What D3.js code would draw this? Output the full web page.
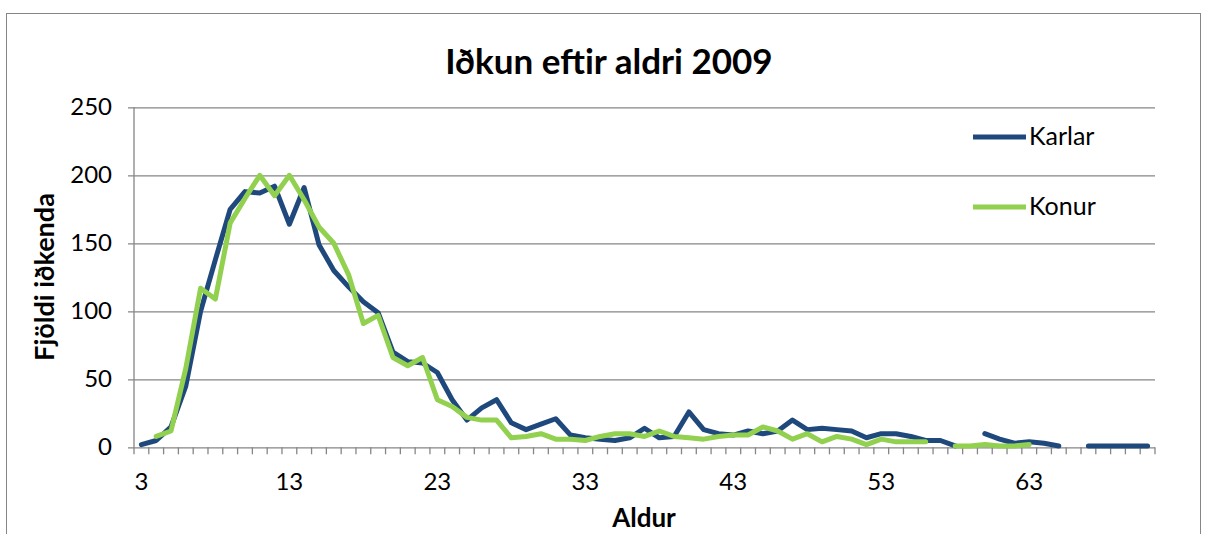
<!DOCTYPE html>
<html>
<head>
<meta charset="utf-8">
<script src="https://cdn.jsdelivr.net/npm/d3@7"></script>
<style>
  body { margin: 0; background: #fff; }
  text { font-family: Lato, "Liberation Sans", sans-serif; fill: #000; }
</style>
</head>
<body>
<svg></svg>
<script>
//svg size
const width = 1209;
const height = 534;

//data: ages 3..71
var ages = d3.range(3, 72);
var karlar = [2, 5, 15, 45, 100, 138, 175, 188, 187, 192,
              164, 191, 149, 130, 118, 107, 99, 70, 63, 62,
              55, 35, 20, 29, 35, 18, 13, 17, 21, 9,
              7, 6, 5, 7, 14, 7, 8, 26, 13, 10,
              9, 12, 10, 12, 20, 13, 14, 13, 12, 7,
              10, 10, 8, 5, 5, 1, null, 10, 6, 3,
              4, 3, 1, null, 1, 1, 1, 1, 1];
var konur = [null, 8, 12, 58, 117, 109, 165, 183, 200, 185,
             200, 182, 162, 150, 127, 91, 97, 66, 60, 66,
             35, 30, 22, 20, 20, 7, 8, 10, 6, 6,
             5, 8, 10, 10, 8, 12, 8, 7, 6, 8,
             9, 9, 15, 12, 6, 10, 4, 8, 6, 2,
             6, 4, 4, 4, null, 1, 1, 2, 1, 1,
             2, null, null, null, null, null, null, null, null];
var tickAges = [3, 13, 23, 33, 43, 53, 63];
var yTicks = [0, 50, 100, 150, 200, 250];

//colours
var karlar_col = '#1f497d';
var konur_col = '#92d050';
var grid_col = '#868686';

//plot area
var plotLeft = 134, plotRight = 1155, plotTop = 107.3, plotBottom = 447.3;

var svg = d3.select('svg')
    .attr('width', width)
    .attr('height', height);

//outer chart border
svg.append('rect')
   .attr('x', 6.5)
   .attr('y', 13.5)
   .attr('width', 1194)
   .attr('height', 540)
   .attr('fill', 'none')
   .attr('stroke', grid_col)
   .attr('stroke-width', 1);

//scales
var x = d3.scaleBand().domain(ages).range([plotLeft, plotRight]);
var y = d3.scaleLinear().domain([0, 250]).range([plotBottom, plotTop]);

//horizontal gridlines + y ticks
svg.append('g')
   .attr('transform', 'translate(' + plotLeft + ',0)')
   .call(d3.axisLeft(y).tickValues(yTicks).tickSize(-(plotRight - plotLeft)).tickSizeOuter(0))
   .call(g => g.select('.domain').remove())
   .call(g => g.selectAll('.tick line').attr('stroke', grid_col).attr('stroke-width', 1.3).attr('x1', -6))
   .call(g => g.selectAll('.tick text')
               .style('font-size', '24px')
               .style('font-family', 'Lato, sans-serif')
               .attr('fill', '#000')
               .attr('x', -22));

//y axis line
svg.append('line')
   .attr('x1', plotLeft).attr('x2', plotLeft)
   .attr('y1', plotTop).attr('y2', plotBottom)
   .attr('stroke', grid_col)
   .attr('stroke-width', 1.3);

//x axis tick marks at category boundaries
svg.append('g')
   .selectAll('line')
   .data(ages.concat([null]))
   .join('line')
   .attr('x1', (d, i) => plotLeft + i * x.step())
   .attr('x2', (d, i) => plotLeft + i * x.step())
   .attr('y1', plotBottom)
   .attr('y2', plotBottom + 7)
   .attr('stroke', grid_col)
   .attr('stroke-width', 1.3);

//x tick labels
svg.append('g')
   .selectAll('text')
   .data(tickAges)
   .join('text')
   .attr('x', d => x(d) + x.bandwidth() / 2)
   .attr('y', 490)
   .attr('text-anchor', 'middle')
   .style('font-size', '24px')
   .text(d => d);

//lines
var line = d3.line()
    .defined(d => d.v != null)
    .x(d => x(d.age) + x.bandwidth() / 2)
    .y(d => y(d.v));

var series = [
  {name: 'Karlar', values: karlar, col: karlar_col},
  {name: 'Konur', values: konur, col: konur_col}
];

series.forEach(function(s) {
  svg.append('path')
     .datum(ages.map((a, i) => ({age: a, v: s.values[i]})))
     .attr('d', line)
     .attr('fill', 'none')
     .attr('stroke', s.col)
     .attr('stroke-width', 5)
     .attr('stroke-linejoin', 'round')
     .attr('stroke-linecap', 'round');
});

//legend
series.forEach(function(s, i) {
  var ly = 137 + i * 70;
  svg.append('line')
     .attr('x1', 973).attr('x2', 1026)
     .attr('y1', ly).attr('y2', ly)
     .attr('stroke', s.col)
     .attr('stroke-width', 5);
  svg.append('text')
     .attr('x', 1029)
     .attr('y', ly + 8)
     .style('font-size', '25px')
     .text(s.name);
});

//title
svg.append('text')
   .attr('x', 609)
   .attr('y', 74)
   .attr('text-anchor', 'middle')
   .style('font-size', '35px')
   .style('font-weight', 'bold')
   .text('Iðkun eftir aldri 2009');

//axis titles
svg.append('text')
   .attr('x', 644)
   .attr('y', 527)
   .attr('text-anchor', 'middle')
   .style('font-size', '26px')
   .style('font-weight', 'bold')
   .text('Aldur');

svg.append('text')
   .attr('transform', 'translate(54,277) rotate(-90)')
   .attr('text-anchor', 'middle')
   .style('font-size', '27px')
   .style('font-weight', 'bold')
   .text('Fjöldi iðkenda');
</script>
</body>
</html>
